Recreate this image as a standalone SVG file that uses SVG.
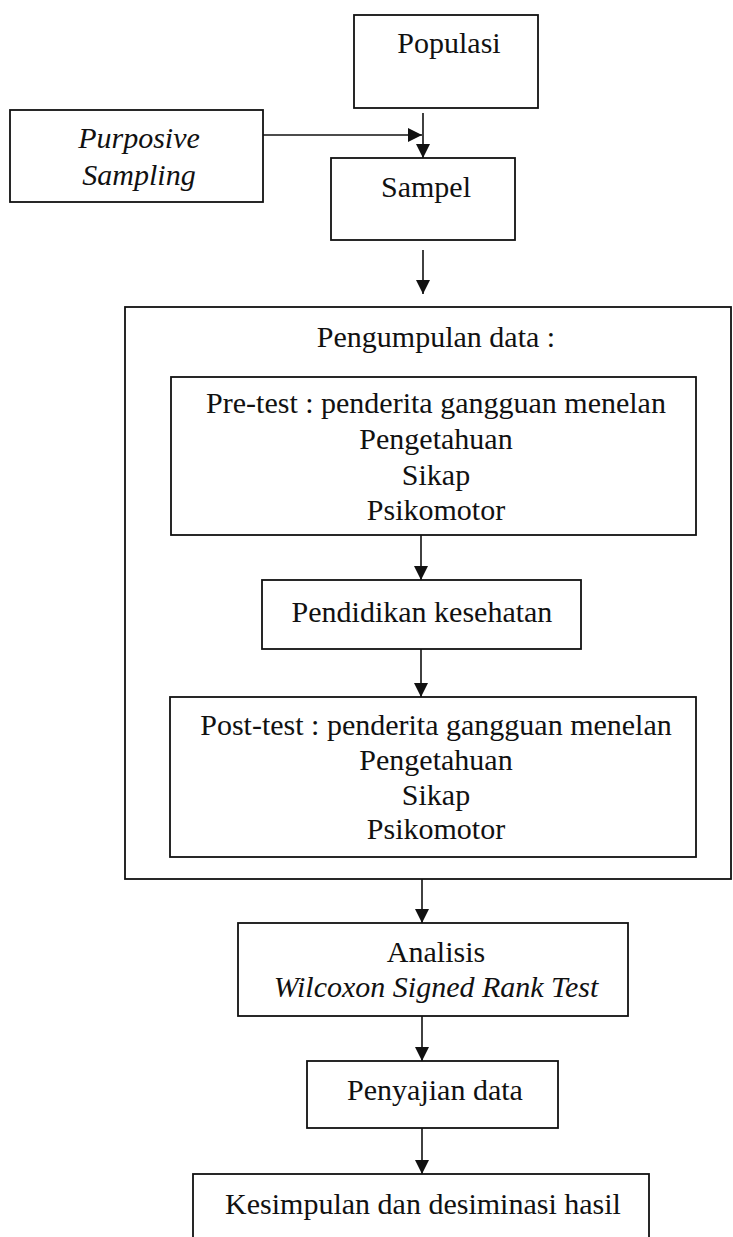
<svg xmlns="http://www.w3.org/2000/svg" width="733" height="1237" viewBox="0 0 733 1237">
  <style>
    .box { fill: none; stroke: #111; stroke-width: 1.8; }
    .t { font-family: "Liberation Serif", "Times New Roman", serif; font-size: 30px; fill: #111; text-anchor: middle; }
    .i { font-style: italic; }
    .line { stroke: #111; stroke-width: 1.6; fill: none; marker-end: url(#arr); }
  </style>
  <defs>
    <marker id="arr" markerUnits="userSpaceOnUse" markerWidth="14" markerHeight="14" refX="14" refY="7" orient="auto">
      <path d="M0,0 L14,7 L0,14 z" fill="#111"/>
    </marker>
  </defs>
  <rect width="733" height="1237" fill="#fff"/>

  <g id="populasi">
    <rect class="box" x="354" y="15" width="184" height="93"/>
    <text class="t" x="449" y="53">Populasi</text>
  </g>
  <g id="purposive">
    <rect class="box" x="10" y="110" width="253" height="92"/>
    <text class="t i" x="139" y="148">Purposive</text>
    <text class="t i" x="139" y="185">Sampling</text>
  </g>
  <g id="sampel">
    <rect class="box" x="331" y="158" width="184" height="82"/>
    <text class="t" x="426" y="197">Sampel</text>
  </g>
  <g id="pengumpulan">
    <rect class="box" x="125" y="307" width="606" height="572"/>
    <text class="t" x="436" y="347">Pengumpulan data :</text>
  </g>
  <g id="pretest">
    <rect class="box" x="171" y="377" width="525" height="158"/>
    <text class="t" x="436" y="413">Pre-test : penderita gangguan menelan</text>
    <text class="t" x="436" y="449">Pengetahuan</text>
    <text class="t" x="436" y="485">Sikap</text>
    <text class="t" x="436" y="520">Psikomotor</text>
  </g>
  <g id="pendidikan">
    <rect class="box" x="262" y="580" width="319" height="69"/>
    <text class="t" x="422" y="622">Pendidikan kesehatan</text>
  </g>
  <g id="posttest">
    <rect class="box" x="170" y="697" width="526" height="160"/>
    <text class="t" x="436" y="735">Post-test : penderita gangguan menelan</text>
    <text class="t" x="436" y="770">Pengetahuan</text>
    <text class="t" x="436" y="805">Sikap</text>
    <text class="t" x="436" y="839">Psikomotor</text>
  </g>
  <g id="analisis">
    <rect class="box" x="238" y="923" width="390" height="93"/>
    <text class="t" x="436" y="962">Analisis</text>
    <text class="t i" x="436" y="997">Wilcoxon Signed Rank Test</text>
  </g>
  <g id="penyajian">
    <rect class="box" x="307" y="1061" width="251" height="67"/>
    <text class="t" x="435" y="1100">Penyajian data</text>
  </g>
  <g id="kesimpulan">
    <rect class="box" x="193" y="1174" width="456" height="80"/>
    <text class="t" x="423" y="1214">Kesimpulan dan desiminasi hasil</text>
  </g>

  <g id="connectors">
    <line class="line" x1="263" y1="135" x2="422" y2="135"/>
    <line class="line" x1="423" y1="113" x2="423" y2="158"/>
    <line class="line" x1="423" y1="250" x2="423" y2="294"/>
    <line class="line" x1="421" y1="535" x2="421" y2="580"/>
    <line class="line" x1="421" y1="649" x2="421" y2="697"/>
    <line class="line" x1="422" y1="879" x2="422" y2="923"/>
    <line class="line" x1="422" y1="1016" x2="422" y2="1061"/>
    <line class="line" x1="422" y1="1128" x2="422" y2="1174"/>
  </g>
</svg>
